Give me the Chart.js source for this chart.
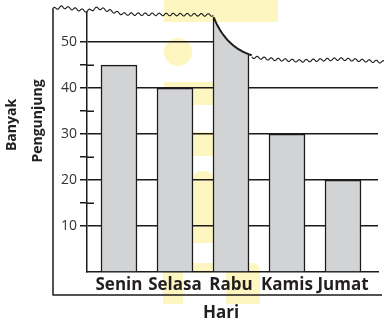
<!DOCTYPE html>
<html>
<head>
<meta charset="utf-8">
<script src="https://cdn.jsdelivr.net/npm/chart.js@4.4.0/dist/chart.umd.min.js"></script>
<style>
  html, body { margin: 0; padding: 0; background: #fff; }
  canvas { display: block; }
</style>
</head>
<body>
<canvas id="c" width="384" height="323"></canvas>
<script>
// Visitors per day
const days = ['Senin', 'Selasa', 'Rabu', 'Kamis', 'Jumat'];
const visitors = [45, 40, 60, 30, 20];   // Rabu runs off the top of the axis
const majorTicks = [10, 20, 30, 40, 50];
const minorTicks = [15, 25, 35, 45];
const yTitle = ['Banyak', 'Pengunjung'];
const xTitle = 'Hari';

const INK = '#1c1a1b';
const TEXT = '#231f20';
const YELLOW = '#fef6c1';

// wavy "torn paper" edge across the top of the chart
function wave(base, x0, x1) {
  const pts = [];
  for (let x = x0; x <= x1; x += 0.5) {
    let i = 0;
    while (i < base.length - 2 && x > base[i + 1][0]) i++;
    const [ax, ay] = base[i], [bx, by] = base[i + 1];
    const t = Math.max(0, Math.min(1, (x - ax) / (bx - ax)));
    pts.push([x, ay + (by - ay) * t + 1.3 * Math.sin(2 * Math.PI * x / 7)]);
  }
  return pts;
}
function tearEdge() {
  const left = wave([[53, 9], [62, 7], [87, 11], [98, 8], [123, 14], [213, 15]], 53, 213);
  const curve = [];
  const p0 = [214, 18], c = [226, 47], p2 = [251, 55];
  for (let t = 0; t <= 1.0001; t += 0.05) {
    const u = 1 - t;
    curve.push([u * u * p0[0] + 2 * u * t * c[0] + t * t * p2[0],
                u * u * p0[1] + 2 * u * t * c[1] + t * t * p2[1]]);
  }
  const right = wave([[251, 57], [270, 59], [300, 61], [340, 59], [384, 62]], 252, 384);
  return { left, curve, right };
}

function yellowShapes(ctx) {
  ctx.fillStyle = YELLOW;
  ctx.fillRect(164, 0, 114, 22);
  ctx.beginPath(); ctx.arc(178, 52, 14, 0, Math.PI * 2); ctx.fill();
  ctx.fillRect(164, 82, 49, 23);
  ctx.fillRect(193, 132, 20, 24);
  ctx.beginPath(); ctx.roundRect(193, 171, 20, 72, [8, 8, 0, 0]); ctx.fill();
  ctx.fillRect(193, 263, 20, 10);
  ctx.fillRect(163, 263, 20, 41);
  ctx.beginPath(); ctx.roundRect(226, 263, 34, 41, [0, 8, 0, 0]); ctx.fill();
}

const paper = {
  id: 'paper',
  beforeDraw(chart) {
    const ctx = chart.ctx;
    ctx.save();
    ctx.fillStyle = '#fff';
    ctx.fillRect(0, 0, chart.width, chart.height);
    yellowShapes(ctx);
    ctx.restore();
  },
  afterDraw(chart) {
    const ctx = chart.ctx;
    const { left, curve, right } = tearEdge();
    const edge = left.concat(curve, right);

    // blank out everything above the torn edge
    ctx.save();
    const mask = new Path2D();
    mask.moveTo(53, -2);
    edge.forEach(([x, y]) => mask.lineTo(x, y));
    mask.lineTo(386, edge[edge.length - 1][1]);
    mask.lineTo(386, -2);
    mask.closePath();
    ctx.fillStyle = '#fff';
    ctx.fill(mask);
    ctx.clip(mask);
    ctx.fillStyle = YELLOW;
    ctx.fillRect(164, 0, 114, 22);
    ctx.restore();

    // the edge itself
    ctx.save();
    ctx.strokeStyle = INK;
    ctx.lineJoin = 'round';
    ctx.lineCap = 'round';
    const stroke = (pts, w) => {
      ctx.lineWidth = w;
      ctx.beginPath();
      pts.forEach(([x, y], i) => i ? ctx.lineTo(x, y) : ctx.moveTo(x, y));
      ctx.stroke();
    };
    stroke(left, 1.1);
    stroke(curve, 2);
    stroke(right, 1.1);

    // outer frame
    ctx.lineWidth = 1.5;
    ctx.lineCap = 'butt';
    ctx.beginPath();
    ctx.moveTo(53, left[0][1]);
    ctx.lineTo(53, 295);
    ctx.lineTo(382, 295);
    ctx.stroke();

    // inner halves of the minor ticks
    const ys = chart.scales.y, xa = chart.chartArea.left;
    ctx.lineWidth = 1.5;
    minorTicks.forEach(v => {
      const py = Math.round(ys.getPixelForValue(v)) + 0.25;
      ctx.beginPath(); ctx.moveTo(xa, py); ctx.lineTo(xa + 7, py); ctx.stroke();
    });

    // axis titles
    ctx.fillStyle = TEXT;
    ctx.textAlign = 'center';
    ctx.textBaseline = 'middle';
    ctx.font = 'bold 17px "Open Sans"';
    ctx.fillText(xTitle, 221, 313);
    ctx.font = 'bold 14px "Open Sans"';
    [[12, 125], [38, 121]].forEach(([x, y], i) => {
      ctx.save();
      ctx.translate(x, y);
      ctx.rotate(-Math.PI / 2);
      ctx.fillText(yTitle[i], 0, 0);
      ctx.restore();
    });
    ctx.restore();
  }
};

const isMajor = v => majorTicks.includes(v);
const isMinor = v => minorTicks.includes(v);

new Chart(document.getElementById('c'), {
  type: 'bar',
  data: {
    datasets: [{
      data: visitors.map((v, i) => ({ x: i, y: v })),
      backgroundColor: '#d1d3d4',
      borderColor: INK,
      borderWidth: 1.5,
      borderSkipped: 'bottom',
      barThickness: 36
    }]
  },
  options: {
    responsive: false,
    animation: false,
    events: [],
    layout: { padding: { top: 0, right: 6, left: 0, bottom: 0 } },
    plugins: { legend: { display: false }, tooltip: { enabled: false } },
    scales: {
      x: {
        type: 'linear',
        offset: false,
        min: -0.571,
        max: 4.625,
        z: 1,
        afterBuildTicks: s => { s.ticks = days.map((d, i) => ({ value: i })); },
        afterFit: s => { s.height = 51; },
        grid: { display: false, drawTicks: false, offset: false },
        border: { display: true, color: INK, width: 1.5 },
        ticks: {
          autoSkip: false,
          maxRotation: 0,
          padding: 3,
          color: TEXT,
          font: { family: '"Open Sans"', size: 17, weight: 'bold' },
          callback: v => days[v]
        }
      },
      y: {
        min: 0,
        max: 56.7,
        afterFit: s => { s.width = 87; },
        border: { display: true, color: INK, width: 1.5 },
        grid: {
          lineWidth: 1.5,
          tickLength: 7,
          color: c => isMajor(c.tick.value) ? INK : 'rgba(0,0,0,0)',
          tickColor: c => (isMajor(c.tick.value) || isMinor(c.tick.value)) ? INK : 'rgba(0,0,0,0)'
        },
        ticks: {
          stepSize: 5,
          autoSkip: false,
          padding: 3,
          color: '#333',
          font: { family: '"Open Sans"', size: 14 },
          callback: v => isMajor(v) ? String(v) : ''
        }
      }
    }
  },
  plugins: [paper]
});
</script>
</body>
</html>
